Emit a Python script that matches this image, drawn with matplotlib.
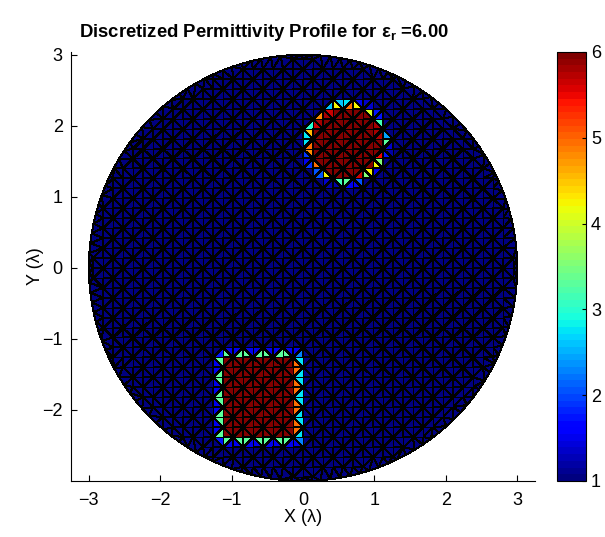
import numpy as np
import matplotlib
matplotlib.use("Agg")
import matplotlib.pyplot as plt
import matplotlib.tri as mtri

plt.rcParams['font.family'] = ['Liberation Sans', 'DejaVu Sans']
plt.rcParams['mathtext.fontset'] = 'custom'
plt.rcParams['mathtext.rm'] = 'Liberation Sans'
plt.rcParams['mathtext.bf'] = 'Liberation Sans:bold'

# domain and inclusions (in wavelengths)
domain_radius = 3.0
mesh_step = 0.14
eps_background = 1.0
eps_r = 6.0
circle_center = [0.6, 1.77]
circle_radius = 0.55
square_x = [-1.15, -0.05]
square_y = [-2.42, -1.22]
cbar_ticks = [1, 2, 3, 4, 5, 6]
axis_ticks = [-3, -2, -1, 0, 1, 2, 3]

# ---- mesh: square grid (union-jack split) + ring of nodes on the circle
h = mesh_step
n = int(np.ceil(domain_radius / h)) + 1
node_id = {}
xs, ys, wx, wy = [], [], [], []
for i in range(-n, n + 1):
    for j in range(-n, n + 1):
        x, y = i * h, j * h
        if np.hypot(x, y) < domain_radius - 0.4 * h:
            node_id[(i, j)] = len(xs)
            xs.append(x)
            ys.append(y)
            # tiny fixed nudge so the grid is not degenerate for Delaunay
            wx.append(x + 1e-3 * h * np.sin(1.7 * i + 2.3 * j))
            wy.append(y + 1e-3 * h * np.cos(2.9 * i - 1.3 * j))
n_ring = int(round(2 * np.pi * domain_radius / h))
th = np.linspace(0, 2 * np.pi, n_ring, endpoint=False)
xs += list(domain_radius * np.cos(th))
ys += list(domain_radius * np.sin(th))
wx += list(domain_radius * np.cos(th))
wy += list(domain_radius * np.sin(th))
xs = np.array(xs)
ys = np.array(ys)

dtri = mtri.Triangulation(np.array(wx), np.array(wy))
tris = []
cells = set()
for t in dtri.triangles:
    cx, cy = xs[t].mean(), ys[t].mean()
    ci, cj = int(np.floor(cx / h)), int(np.floor(cy / h))
    corners = [(ci, cj), (ci + 1, cj), (ci + 1, cj + 1), (ci, cj + 1)]
    ids = [node_id.get(c, -1) for c in corners]
    if all(k >= 0 for k in ids) and all(k in ids for k in t):
        cells.add((ci, cj))
    else:
        tris.append(list(t))
for (ci, cj) in cells:
    a = node_id[(ci, cj)]
    b = node_id[(ci + 1, cj)]
    c = node_id[(ci + 1, cj + 1)]
    d = node_id[(ci, cj + 1)]
    if (ci + cj) % 2 == 0:
        tris += [[a, b, c], [a, c, d]]
    else:
        tris += [[a, b, d], [b, c, d]]
tris = np.array(tris)
tri = mtri.Triangulation(xs, ys, tris)

# ---- permittivity per triangle (fraction of triangle inside an inclusion)
bary = []
m = 6
for p in range(m + 1):
    for q in range(m + 1 - p):
        bary.append([p / m, q / m, 1 - p / m - q / m])
bary = np.array(bary)
px = bary @ xs[tris].T
py = bary @ ys[tris].T
inside = (np.hypot(px - circle_center[0], py - circle_center[1]) < circle_radius) | \
    ((px > square_x[0]) & (px < square_x[1]) & (py > square_y[0]) & (py < square_y[1]))
frac = inside.mean(axis=0)
eps = eps_background + (eps_r - eps_background) * frac

fig = plt.figure(figsize=(6.05, 5.37), dpi=100)
ax = fig.add_axes([0.1174, 0.1043, 0.767, 0.799])
cmap = plt.get_cmap('jet', 64)
pc = ax.tripcolor(tri, facecolors=eps, cmap=cmap, vmin=1, vmax=6,
                  edgecolors='k', linewidth=0.72, antialiased=False)
ax.set_xlim(-3.25, 3.25)
ax.set_ylim(-3.0, 3.04)
ax.set_xticks(axis_ticks)
ax.set_yticks(axis_ticks[1:])
ax.set_xticklabels(['\u22123', '\u22122', '\u22121', '0', '1', '2', '3'])
ax.set_yticklabels(['\u22122', '\u22121', '0', '1', '2', '3'])
ax.spines['top'].set_visible(False)
ax.spines['right'].set_visible(False)
ax.tick_params(direction='in', length=4, labelsize=13)
ax.tick_params(axis='x', pad=8)
ax.tick_params(axis='y', pad=6)
ax.set_xlabel('X (\u03bb)', fontsize=13, labelpad=0)
ax.set_ylabel('Y (\u03bb)', fontsize=13, labelpad=-1)
ax.set_title('Discretized Permittivity Profile for \u03b5$_\\mathbf{r}$ =6.00',
             fontsize=13.3, fontweight='bold', pad=11, x=0.416)

cax = fig.add_axes([0.9207, 0.1043, 0.0479, 0.799])
cb = fig.colorbar(pc, cax=cax, ticks=cbar_ticks)
cb.ax.tick_params(direction='in', length=3, labelsize=13)
cb.outline.set_linewidth(0.8)

fig.savefig('out.png', dpi=100)
